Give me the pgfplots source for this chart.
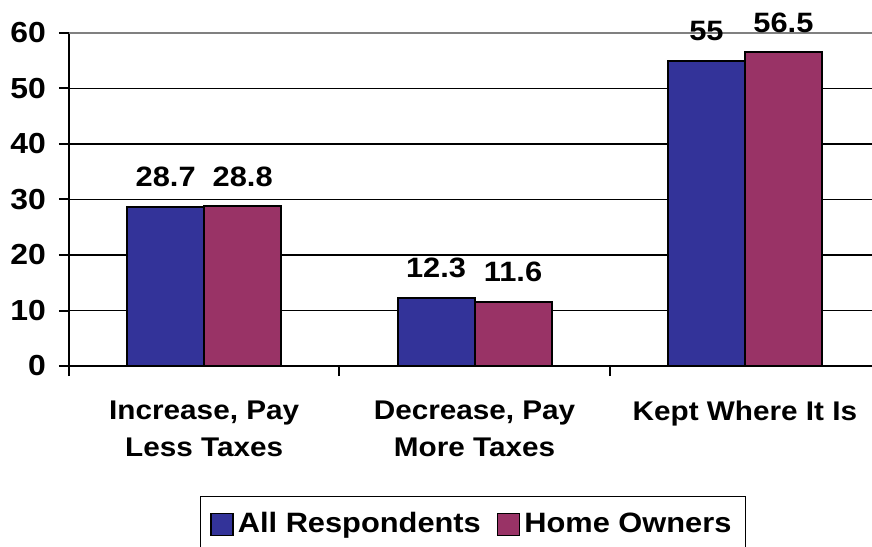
\documentclass[border=0pt]{standalone}
\usepackage{fontspec}
\setmainfont[FakeStretch=1.1]{Liberation Sans}
\usepackage{pgfplots}
\pgfplotsset{compat=1.18}
\definecolor{barblue}{HTML}{333399}
\definecolor{barred}{HTML}{993366}
\begin{document}
\begin{tikzpicture}
\path[use as bounding box] (0,0) rectangle (436pt,273pt);
\clip (0,0) rectangle (436pt,273pt);
\begin{axis}[
  at={(34.5pt,90pt)}, anchor=south west,
  scale only axis, width=401.5pt, height=166.5pt,
  xmin=-0.5, xmax=2.47, ymin=0, ymax=60,
  ybar=0pt, bar width=38.5pt,
  axis x line*=bottom, axis y line*=left,
  axis line style={-, black, line width=1pt},
  /pgf/number format/assume math mode=true,
  font=\bfseries\fontsize{14}{16}\selectfont,
  ticklabel style={font=\bfseries\fontsize{14.5}{16}\selectfont},
  yticklabel style={xshift=-3pt},
  xtick={-0.5,0.5,1.5,2.5}, xticklabels={},
  extra x ticks={0,1,2},
  extra x tick labels={{Increase, Pay\\Less Taxes},{Decrease, Pay\\More Taxes},{Kept Where It Is}},
  extra x tick style={major tick length=0pt, xmajorgrids=false,
    xticklabel style={align=center, anchor=north, yshift=-14pt, font=\bfseries\fontsize{13.5}{18.5}\selectfont}},
  ytick={0,10,...,60},
  tick align=outside, major tick length=5pt,
  tick style={black, line width=1pt},
  ymajorgrids, grid style={black, line width=0.75pt},
  nodes near coords,
  every node near coord/.append style={font=\bfseries\fontsize{14}{16}\selectfont, anchor=south, yshift=6pt},
  legend style={at={(rel axis cs:0.503,-0.390)}, anchor=north, legend columns=2,
    draw=black, line width=0.75pt, font=\bfseries\fontsize{14}{16}\selectfont,
    inner xsep=5pt, inner ysep=6pt,
    /tikz/every even column/.append style={column sep=6pt}},
]
\addplot[fill=barblue, draw=black, line width=1pt,
  legend image code/.code={\draw[fill=barblue, draw=black, line width=0.75pt] (0pt,-5.5pt) rectangle (11pt,5.5pt);}]
  coordinates {(0,28.7) (1,12.3) (2,55)};
\addplot[fill=barred, draw=black, line width=1pt,
  legend image code/.code={\draw[fill=barred, draw=black, line width=0.75pt] (0pt,-5.5pt) rectangle (11pt,5.5pt);}]
  coordinates {(0,28.8) (1,11.6) (2,56.5)};
\legend{All Respondents, Home Owners}
\draw[gray, line width=0.75pt] (rel axis cs:0,1) -- (rel axis cs:1,1);
\end{axis}
\end{tikzpicture}
\end{document}
